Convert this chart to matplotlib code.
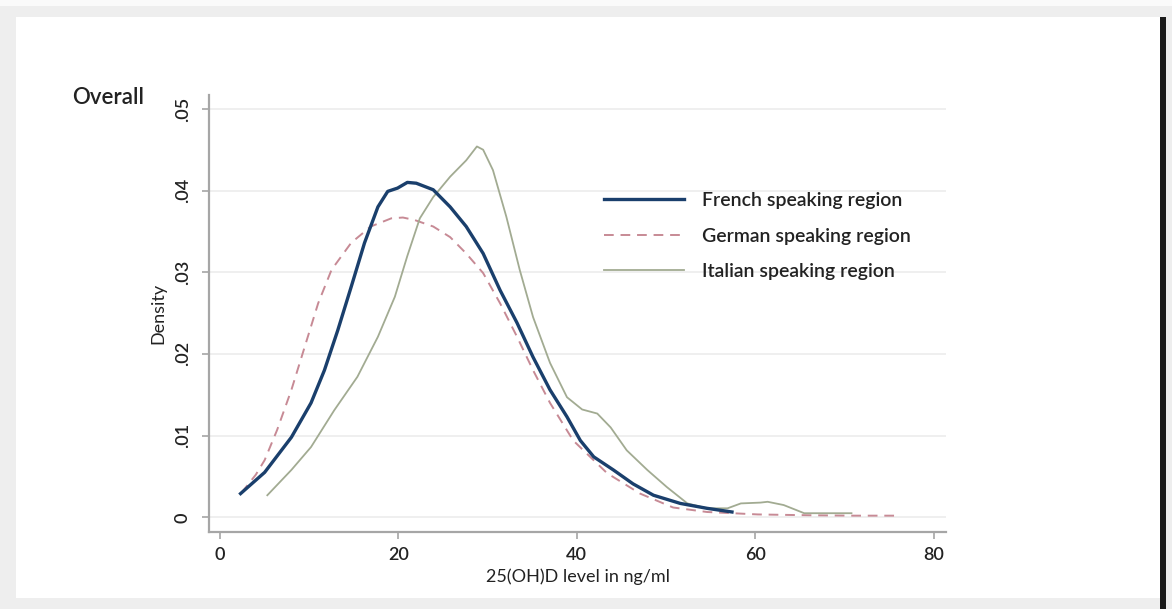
import matplotlib
matplotlib.use("Agg")
import matplotlib.pyplot as plt
from matplotlib.patches import Rectangle

plt.rcParams['font.family'] = ['Lato', 'DejaVu Sans']
plt.rcParams['font.weight'] = 'semibold'

# kernel density estimates of 25(OH)D by language region
french_x = [2.3, 5.0, 8.0, 10.2, 11.7, 13.2, 14.7, 16.2, 17.7, 18.8, 19.9, 21.0, 22.0,
            23.9, 25.8, 27.6, 29.5, 31.4, 33.3, 35.1, 37.0, 38.9, 40.4, 41.9, 44.1,
            46.3, 48.6, 51.6, 54.6, 57.4]
french_y = [0.0029, 0.0055, 0.0098, 0.0140, 0.0180, 0.0229, 0.0282, 0.0336, 0.0380, 0.0399,
            0.0403, 0.0410, 0.0409, 0.0401, 0.0380, 0.0356, 0.0323, 0.0278, 0.0238, 0.0196,
            0.0156, 0.0123, 0.0094, 0.0074, 0.0058, 0.0041, 0.0027, 0.0017, 0.0011, 0.00065]

german_x = [2.4, 4.0, 5.0, 6.4, 8.0, 9.5, 11.0, 12.5, 14.7, 16.9, 19.2, 20.5, 21.8, 23.9,
            25.8, 27.6, 29.5, 31.4, 33.3, 35.1, 37.0, 39.6, 43.4, 47.1, 50.8, 54.6,
            60.3, 66.0, 71.0, 75.8]
german_y = [0.0030, 0.0052, 0.0070, 0.0107, 0.0156, 0.0209, 0.0262, 0.0303, 0.0336, 0.0356,
            0.0366, 0.0367, 0.0364, 0.0356, 0.0343, 0.0323, 0.0299, 0.0262, 0.0221, 0.0180,
            0.0140, 0.0094, 0.0054, 0.0029, 0.0012, 0.00065, 0.00035, 0.00025, 0.0002, 0.0002]

italian_x = [5.3, 8.0, 10.2, 12.8, 15.4, 17.7, 19.6, 21.0, 22.4, 23.9, 25.8, 27.6, 28.8,
             29.5, 30.6, 32.1, 33.6, 35.1, 37.0, 38.9, 40.6, 42.3, 43.8, 45.6, 47.9,
             50.1, 52.4, 54.6, 56.9, 58.4, 60.6, 61.4, 63.2, 65.5, 67.7, 70.8]
italian_y = [0.0027, 0.0058, 0.0086, 0.0131, 0.0172, 0.0221, 0.0270, 0.0320, 0.0366, 0.0392,
             0.0417, 0.0437, 0.0454, 0.0450, 0.0425, 0.0368, 0.0303, 0.0245, 0.0189, 0.0147,
             0.0132, 0.0127, 0.0110, 0.0082, 0.0058, 0.0037, 0.0017, 0.0011, 0.0011, 0.0017,
             0.0018, 0.0019, 0.0015, 0.0005, 0.0005, 0.0005]

xticks = [0, 20, 40, 60, 80]
yticks = [0, 0.01, 0.02, 0.03, 0.04, 0.05]
ytick_labels = ['0', '.01', '.02', '.03', '.04', '.05']

fig = plt.figure(figsize=(11.72, 6.09), dpi=100, facecolor='#eeeeee')
W, H = 1172, 609
# white page with a dark edge on the right (behind the axes)
fig.patches.append(Rectangle((0, 1 - 6 / H), 1, 6 / H, transform=fig.transFigure,
                             facecolor='#fafafa', edgecolor='none', zorder=-5))
fig.patches.append(Rectangle((16 / W, 1 - 598 / H), (1160 - 16) / W, (598 - 17) / H,
                             transform=fig.transFigure, facecolor='white', edgecolor='none', zorder=-5))
fig.patches.append(Rectangle((1160 / W, 0), 6 / W, 1 - 17 / H, transform=fig.transFigure,
                             facecolor='#1a1a1a', edgecolor='none', zorder=-5))

ax = fig.add_axes([209 / W, 1 - 532 / H, (946 - 209) / W, (532 - 95) / H])
ax.set_facecolor('none')

ax.plot(french_x, french_y, color='#1a3f6c', lw=2.4, label='French speaking region', zorder=3)
ax.plot(german_x, german_y, color='#c78a95', lw=1.4, ls=(0, (5, 3.5)),
        label='German speaking region', zorder=2)
ax.plot(italian_x, italian_y, color='#a2ab92', lw=1.3, label='Italian speaking region', zorder=2)

ax.set_xlim(-1.24, 81.4)
ax.set_ylim(-0.0018, 0.0517)
ax.set_xticks(xticks)
ax.set_xticklabels([str(t) for t in xticks])
ax.set_yticks(yticks)
ax.set_yticklabels(ytick_labels, rotation=90, va='center')
ax.grid(axis='y', color='#ececec', lw=1.2)
ax.set_axisbelow(True)

for s in ['top', 'right']:
    ax.spines[s].set_visible(False)
for s in ['left', 'bottom']:
    ax.spines[s].set_color('#a6a6a6')
    ax.spines[s].set_linewidth(1.6)
ax.tick_params(colors='#a6a6a6', length=5, width=1.2, labelcolor='#222222', labelsize=13)
ax.tick_params(axis='y', pad=8)
ax.tick_params(axis='x', pad=6)

ax.set_xlabel('25(OH)D level in ng/ml', fontsize=13, color='#222222', labelpad=4)
ax.set_ylabel('Density', fontsize=13, color='#222222', labelpad=6)

fig.text(72 / W, 1 - 98 / H, 'Overall', fontsize=16, color='#222222', va='center', ha='left')

ax.legend(loc='upper left', bbox_to_anchor=(0.523, 0.80), frameon=False,
          prop={'size': 14, 'weight': 'semibold'},
          handlelength=4.1, handletextpad=0.95, labelspacing=0.95, borderpad=0,
          labelcolor='#222222')

fig.savefig('out.png', dpi=100, facecolor=fig.get_facecolor())
